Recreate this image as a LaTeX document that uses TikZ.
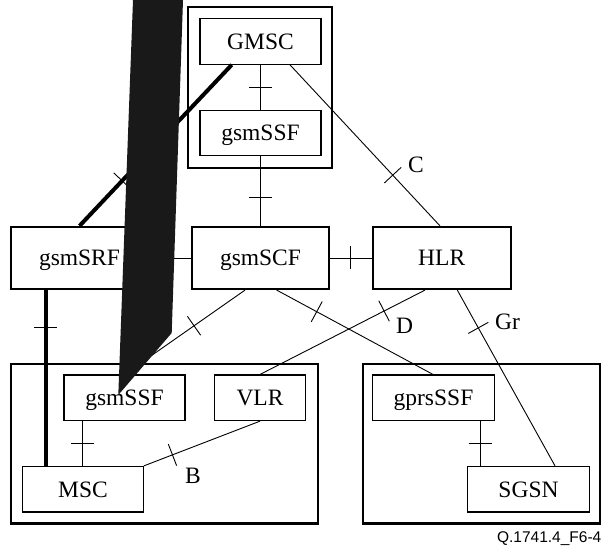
\documentclass[tikz,border=0pt]{standalone}
\usepackage{fontspec}
\setmainfont{Liberation Serif}
\newfontfamily\captionfont{Liberation Sans}
\usetikzlibrary{calc,decorations.markings}

\begin{document}
\begin{tikzpicture}[x=1pt,y=-1pt,
  boxtext/.style={font=\fontsize{23.5}{28}\selectfont, text height=15.6pt, text depth=0pt},
  inner/.style={draw, line width=1.2pt, rectangle, inner sep=0pt, boxtext,
                minimum width=121pt, minimum height=45.5pt},
  entity/.style={draw, line width=2.2pt, rectangle, inner sep=0pt, boxtext,
                 minimum width=137pt, minimum height=62pt},
  frame/.style={line width=2.2pt},
  link/.style={line width=0.9pt},
  heavy/.style={line width=4pt},
  ifname/.style={boxtext, inner sep=0pt},
  tickat/.style={postaction={decorate, decoration={markings,
      mark=at position #1 with {\draw[line width=0.9pt] (0,-11.5pt) -- (0,11.5pt);}}}}
]
\useasboundingbox (0,0) rectangle (602,553);

% grouping frames
\draw[frame] (187.7,7.3) rectangle (332,167.7);
\draw[frame] (11,364.3) rectangle (317.7,523.5);
\draw[frame] (362.7,364.3) rectangle (600,523.5);

% functional entities
\node[inner] (gmsc) at (260.5,41.5) {GMSC};
\node[inner] (ssfa) at (260.5,133) {gsmSSF};
\node[entity] (gsmsrf) at (79.5,258) {gsmSRF};
\node[entity] (gsmscf) at (260.5,258) {gsmSCF};
\node[entity, minimum width=138pt] (hlr) at (441.7,258) {HLR};
\node[inner] (ssfb) at (124.5,397.8) {gsmSSF};
\node[inner, minimum width=91.4pt] (vlr) at (260,397.8) {VLR};
\node[inner, minimum width=120.6pt] (msc) at (83,489.2) {MSC};
\node[inner, minimum width=121.6pt] (gprsssf) at (433.5,397.8) {gprsSSF};
\node[inner, minimum width=121.6pt] (sgsn) at (528.5,489.2) {SGSN};

% interfaces
\draw[heavy, tickat=0.72] ($(gmsc.south)+(-28.8,0)$) -- (gsmsrf.north);
\draw[link, tickat=0.5] (gmsc) -- (ssfa);
\draw[link, tickat=0.589] (ssfa) -- (gsmscf);
\draw[link, tickat=0.685] ($(gmsc.south)+(29.5,0)$) -- ($(hlr.north)+(-1.7,0)$);
\draw[link, tickat=0.5] (gsmsrf) -- (gsmscf);
\draw[link, tickat=0.5] (gsmscf) -- (hlr);
\draw[heavy, tickat=0.212] ($(gsmsrf.south)+(-33.8,0)$) -- ($(msc.north)+(-37.3,0)$);
\draw[link, tickat=0.423] ($(gsmscf.south)+(-15.5,0)$) -- (ssfb.north);
\draw[link, tickat=0.256] ($(gsmscf.south)+(16.2,0)$) -- ($(gprsssf.north)+(-0.5,0)$);
\draw[link, tickat=0.248] ($(hlr.south)+(-16.7,0)$) -- (vlr.north);
\draw[link, tickat=0.215] ($(hlr.south)+(15.6,0)$) -- ($(sgsn.north)+(26.5,0)$);
\draw[link, tickat=0.5] ($(ssfb.south)+(-41.8,0)$) -- ($(msc.north)+(-0.3,0)$);
\draw[link, tickat=0.246] (msc.north east) -- (vlr.south);
\draw[link, tickat=0.5] ($(gprsssf.south)+(46.5,0)$) -- ($(sgsn.north)+(-48.5,0)$);

% interface names
\node[ifname] (lc) at (416,164.5) {C};
\node[ifname] (ld) at (404.7,325.7) {D};
\node[ifname] (lgr) at (507.5,321.7) {Gr};
\node[ifname] (lb) at (193,475.7) {B};

% solid wedge
\fill[black!90] (133,0) -- (183,0) -- (171.7,333) -- (118.3,395) -- cycle;

% figure identifier
\node[font=\captionfont\fontsize{15.5}{18}\selectfont, anchor=base east, inner sep=0pt]
  (figid) at (601.5,542) {Q.1741.4\_F6-4};
\end{tikzpicture}
\end{document}
